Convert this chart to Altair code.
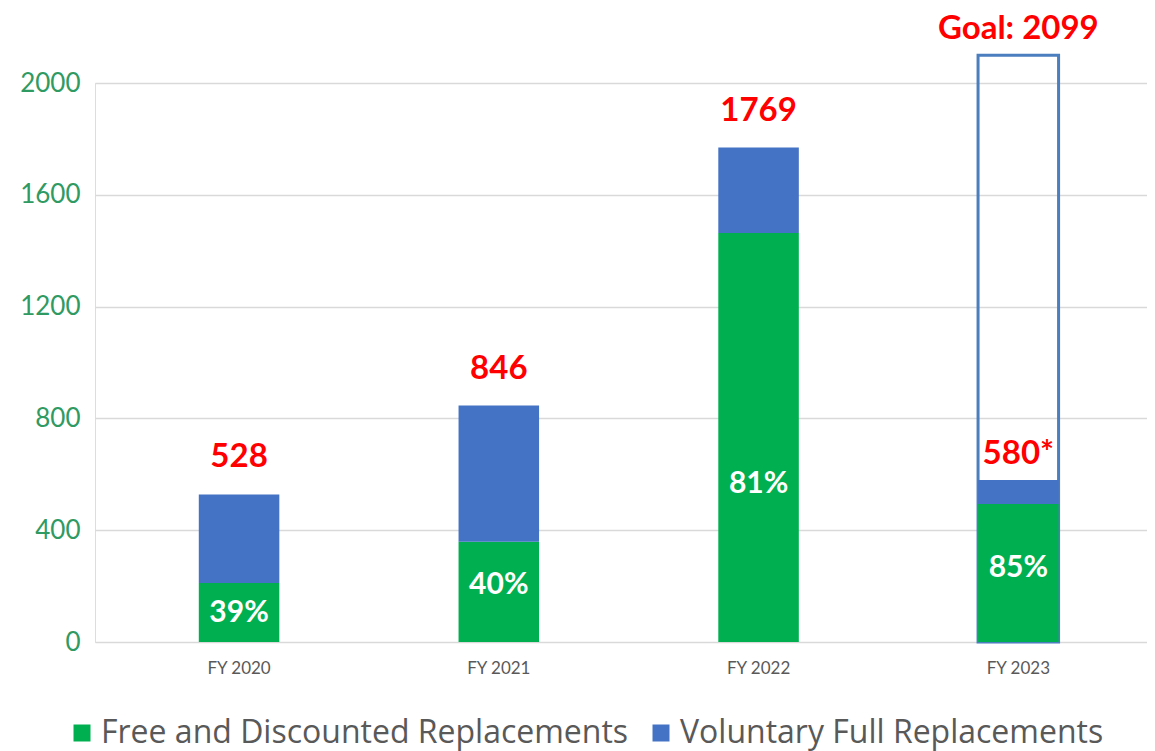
import altair as alt
import pandas as pd

categories = ["FY 2020", "FY 2021", "FY 2022", "FY 2023"]
free_discounted = [211, 359, 1463, 494]
voluntary_full = [317, 487, 306, 86]
totals = [528, 846, 1769, 580]
pct_labels = ["39%", "40%", "81%", "85%"]
pct_anchor = [105, 205, 565, 265]
goal_value = 2099
series_names = ["Free and Discounted Replacements", "Voluntary Full Replacements"]

GREEN = "#00B050"
BLUE = "#4472C4"
FONT = "Lato"

rows = []
for c, g, v in zip(categories, free_discounted, voluntary_full):
    rows.append({"cat": c, "series": series_names[0], "y0": 0, "y1": g})
    rows.append({"cat": c, "series": series_names[1], "y0": g, "y1": g + v})
bars_df = pd.DataFrame(rows)

pct_df = pd.DataFrame({"cat": categories, "y": pct_anchor, "text": pct_labels})
tot_df = pd.DataFrame({"cat": categories[:3], "y": totals[:3],
                       "text": [str(t) for t in totals[:3]]})
fy23_df = pd.DataFrame({"cat": [categories[3], categories[3]],
                        "y": [totals[3], goal_value],
                        "text": [f"{totals[3]}*", f"Goal: {goal_value}"]})
goal_df = pd.DataFrame({"cat": [categories[3]], "y0": [0], "y1": [goal_value]})

xscale = alt.Scale(domain=categories, paddingInner=0.69, paddingOuter=0.37, align=0.54)
yscale = alt.Scale(domain=[0, 2000], nice=False)

x_enc = alt.X("cat:N", scale=xscale, sort=categories, title=None,
              axis=alt.Axis(labelAngle=0, labelFont=FONT, labelFontSize=17,
                            labelColor="#595959", labelPadding=18, ticks=False,
                            domain=False, grid=False))
y_axis = alt.Axis(values=[0, 400, 800, 1200, 1600, 2000], format="d", labelFont=FONT,
                  labelFontSize=26, labelColor="#2F9A62", labelPadding=15,
                  ticks=False, domain=False, grid=True, gridColor="#D9D9D9",
                  gridWidth=1.3)

goal_box = alt.Chart(goal_df).mark_bar(fill="white", fillOpacity=0,
                                       stroke="#4A7EBF", strokeWidth=3).encode(
    x=x_enc,
    y=alt.Y("y1:Q", scale=yscale, axis=y_axis, title=None),
    y2="y0:Q",
)

bars = alt.Chart(bars_df).mark_bar().encode(
    x=x_enc,
    y=alt.Y("y1:Q", scale=yscale, title=None),
    y2="y0:Q",
    color=alt.Color("series:N", sort=series_names,
                    scale=alt.Scale(domain=series_names, range=[GREEN, BLUE]),
                    legend=alt.Legend(title=None, orient="none", direction="horizontal",
                                      legendX=-29, legendY=634, symbolType="square",
                                      symbolSize=289, symbolStrokeWidth=0,
                                      labelFont="Open Sans", labelFontSize=32,
                                      labelColor="#595959", labelLimit=0,
                                      columnPadding=16, symbolOffset=0,
                                      labelOffset=3)),
)

pct_text = alt.Chart(pct_df).mark_text(font=FONT, fontWeight="bold", fontSize=30,
                                       color="white", baseline="middle").encode(
    x=x_enc, y=alt.Y("y:Q", scale=yscale), text="text:N")

tot_text = alt.Chart(tot_df).mark_text(font=FONT, fontWeight="bold", fontSize=33,
                                       color="#FF0000", baseline="alphabetic",
                                       dy=-27).encode(
    x=x_enc, y=alt.Y("y:Q", scale=yscale), text="text:N")

fy23_text = alt.Chart(fy23_df).mark_text(font=FONT, fontWeight="bold", fontSize=33,
                                         color="#FF0000", baseline="alphabetic",
                                         dy=-16).encode(
    x=x_enc, y=alt.Y("y:Q", scale=yscale), text="text:N")

chart = alt.layer(goal_box, bars, pct_text, tot_text, fy23_text).properties(
    width=1052, height=559,
    autosize=alt.AutoSizeParams(type="none"),
    padding={"left": 87, "top": 75, "right": 0, "bottom": 110},
).configure_view(stroke=None).configure(background="white")

chart.save("out.html", embed_options={"renderer": "svg", "actions": False})
